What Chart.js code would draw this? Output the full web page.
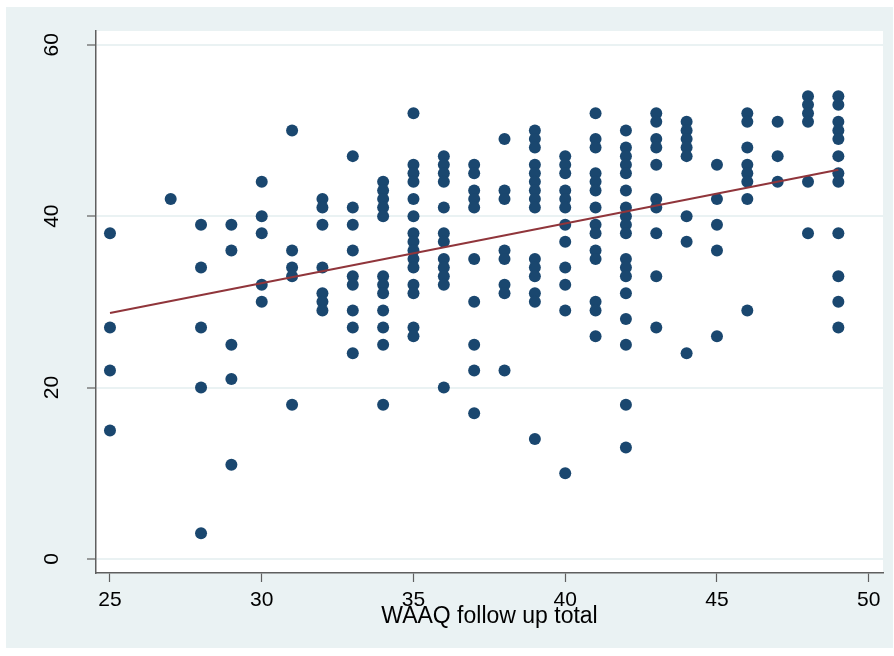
<!DOCTYPE html>
<html>
<head>
<meta charset="utf-8">
<script src="https://cdn.jsdelivr.net/npm/chart.js@4/dist/chart.umd.min.js"></script>
<style>
  html, body { margin: 0; padding: 0; background: #ffffff; }
  #wrap { width: 894px; height: 656px; }
</style>
</head>
<body>
<div id="wrap"><canvas id="c" width="894" height="656"></canvas></div>
<script>
// WAAQ follow-up totals (x) and the scores observed at each total (y)
const followUpTotals = [25, 27, 28, 29, 30, 31, 32, 33, 34, 35, 36, 37, 38, 39, 40, 41, 42, 43, 44, 45, 46, 47, 48, 49];
const scoresAtTotal = [
  [38, 27, 22, 15],
  [42],
  [39, 34, 27, 20, 3],
  [39, 36, 25, 21, 11],
  [44, 40, 38, 32, 30],
  [50, 36, 34, 33, 18],
  [42, 41, 39, 34, 31, 30, 29],
  [47, 41, 39, 36, 33, 32, 29, 27, 24],
  [44, 43, 42, 41, 40, 33, 32, 31, 29, 27, 25, 18],
  [52, 46, 45, 44, 42, 40, 38, 37, 36, 35, 34, 32, 31, 27, 26],
  [47, 46, 45, 44, 41, 38, 37, 35, 34, 33, 32, 20],
  [46, 45, 43, 42, 41, 35, 30, 25, 22, 17],
  [49, 43, 42, 36, 35, 32, 31, 22],
  [50, 49, 48, 46, 45, 44, 43, 42, 41, 35, 34, 33, 31, 30, 14],
  [47, 46, 45, 43, 42, 41, 39, 37, 34, 32, 29, 10],
  [52, 49, 48, 45, 44, 43, 41, 39, 38, 36, 35, 30, 29, 26],
  [50, 48, 47, 46, 45, 43, 41, 40, 39, 38, 35, 34, 33, 31, 28, 25, 18, 13],
  [52, 51, 49, 48, 46, 42, 41, 38, 33, 27],
  [51, 50, 49, 48, 47, 40, 37, 24],
  [46, 42, 39, 36, 26],
  [52, 51, 48, 46, 45, 44, 42, 29],
  [51, 47, 44],
  [54, 53, 52, 51, 44, 38],
  [54, 53, 51, 50, 49, 47, 45, 44, 38, 33, 30, 27]
];

// Linear fit, evaluated at the ends of the observed x range
const fitX = [25, 49];
const fitY = [28.7, 45.4];

const xTickValues = [25, 30, 35, 40, 45, 50];
const yTickValues = [0, 20, 40, 60];
const xTitle = 'WAAQ follow up total';

const scatterPoints = [];
followUpTotals.forEach((x, i) => {
  scoresAtTotal[i].forEach(y => scatterPoints.push({ x: x, y: y }));
});
const fitPoints = fitX.map((x, i) => ({ x: x, y: fitY[i] }));

const FONT = "'Liberation Sans', Arial, sans-serif";
const PANEL = '#eaf2f3';
const AXIS = '#5f5f5f';

// Light outer panel and white plot region
const backdrop = {
  id: 'backdrop',
  beforeDraw(chart) {
    const { ctx, chartArea: a } = chart;
    ctx.save();
    ctx.fillStyle = '#ffffff';
    ctx.fillRect(0, 0, chart.width, chart.height);
    ctx.fillStyle = PANEL;
    ctx.fillRect(6, 7, 887, 641);
    ctx.fillStyle = '#ffffff';
    ctx.fillRect(a.left, a.top, a.right - a.left, a.bottom - a.top);
    ctx.restore();
  }
};

// Vertical (rotated) y tick labels
const yLabels = {
  id: 'yLabels',
  afterDraw(chart) {
    const { ctx } = chart;
    const ys = chart.scales.y;
    ctx.save();
    ctx.fillStyle = '#000000';
    ctx.font = '21px ' + FONT;
    ctx.textAlign = 'center';
    ctx.textBaseline = 'middle';
    yTickValues.forEach(v => {
      const py = ys.getPixelForValue(v);
      ctx.save();
      ctx.translate(52, py);
      ctx.rotate(-Math.PI / 2);
      ctx.fillText(String(v), 0, 0);
      ctx.restore();
    });
    ctx.restore();
  }
};

new Chart(document.getElementById('c'), {
  type: 'scatter',
  data: {
    datasets: [
      {
        type: 'line',
        data: fitPoints,
        borderColor: '#90353b',
        borderWidth: 2,
        pointRadius: 0,
        fill: false,
        order: 0
      },
      {
        type: 'scatter',
        data: scatterPoints,
        backgroundColor: '#1a476f',
        borderColor: '#1a476f',
        borderWidth: 0,
        pointRadius: 6,
        order: 1
      }
    ]
  },
  options: {
    responsive: false,
    animation: false,
    devicePixelRatio: 1,
    layout: { padding: { left: 0, top: 31, right: 11, bottom: 0 } },
    plugins: { legend: { display: false }, tooltip: { enabled: false } },
    scales: {
      x: {
        type: 'linear',
        min: 24.539,
        max: 50.471,
        afterFit(scale) { scale.height = 83; },
        afterBuildTicks(scale) { scale.ticks = xTickValues.map(v => ({ value: v })); },
        border: { display: true, color: AXIS, width: 1.5 },
        grid: { drawOnChartArea: false, drawTicks: true, tickLength: 9, tickColor: AXIS, tickWidth: 1.2 },
        ticks: { color: '#000', font: { family: FONT, size: 21 }, padding: 6, maxRotation: 0, autoSkip: false },
        title: {
          display: true,
          text: xTitle,
          color: '#000',
          font: { family: FONT, size: 23 },
          padding: { top: 0, bottom: 26 }
        }
      },
      y: {
        type: 'linear',
        min: -1.633,
        max: 61.598,
        afterFit(scale) { scale.width = 96; },
        afterBuildTicks(scale) { scale.ticks = yTickValues.map(v => ({ value: v })); },
        border: { display: true, color: AXIS, width: 1.5 },
        grid: { color: PANEL, lineWidth: 2, drawTicks: true, tickLength: 9, tickColor: AXIS, tickWidth: 1.2 },
        ticks: { display: false }
      }
    }
  },
  plugins: [backdrop, yLabels]
});
</script>
</body>
</html>
